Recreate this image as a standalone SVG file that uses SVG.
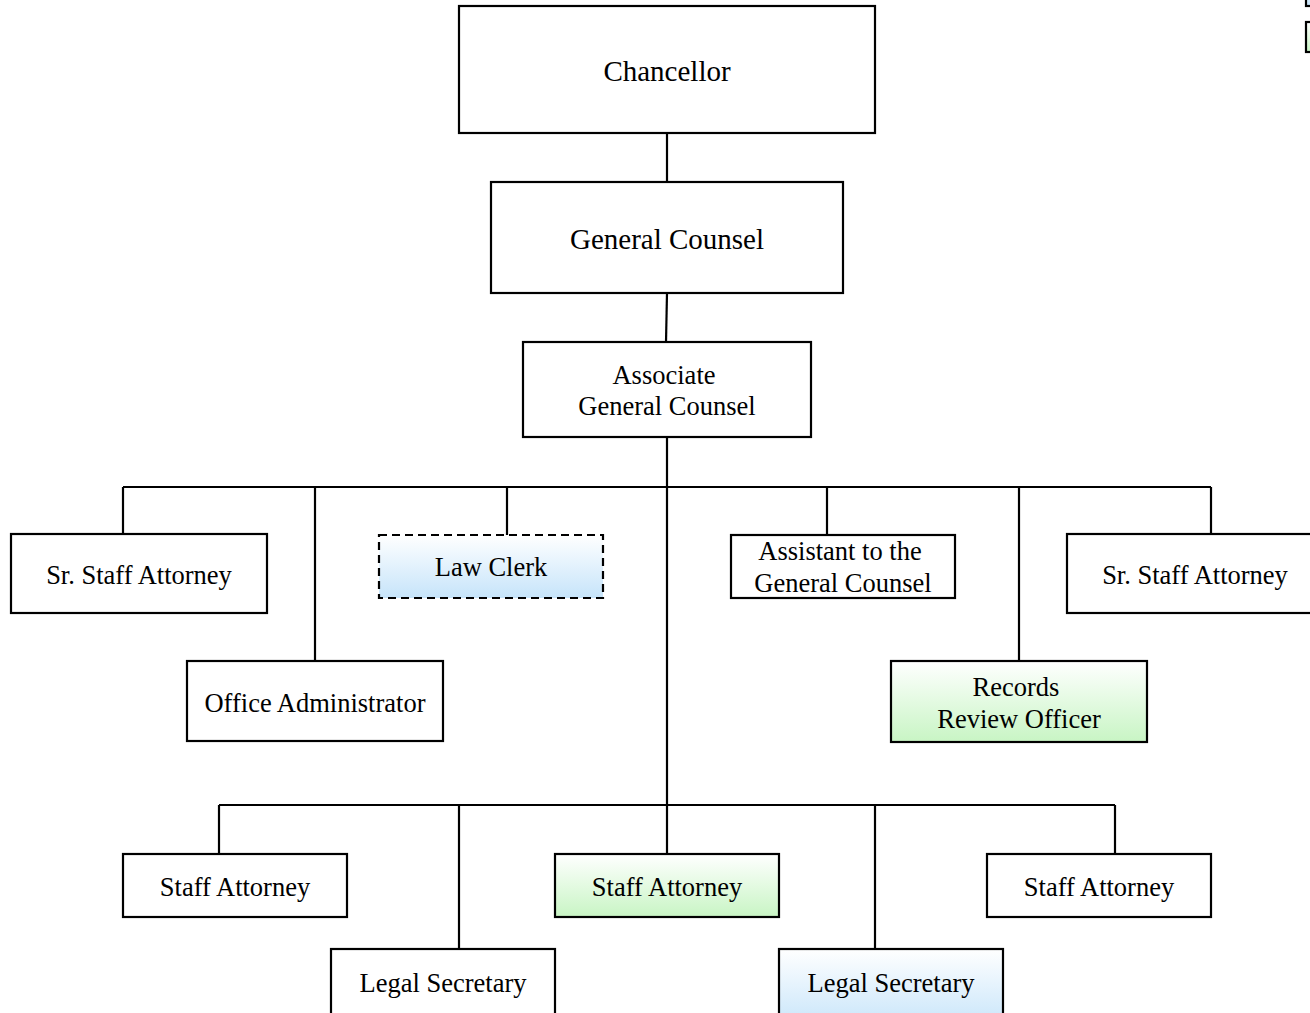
<svg xmlns="http://www.w3.org/2000/svg" width="1310" height="1013" viewBox="0 0 1310 1013">
  <defs>
    <linearGradient id="gBlue" x1="0" y1="0" x2="0" y2="1">
      <stop offset="0" stop-color="#ffffff"/>
      <stop offset="1" stop-color="#c6e4fa"/>
    </linearGradient>
    <linearGradient id="gGreen" x1="0" y1="0" x2="0" y2="1">
      <stop offset="0" stop-color="#ffffff"/>
      <stop offset="1" stop-color="#c8f5c4"/>
    </linearGradient>
    <style>
      .box { fill: #ffffff; stroke: #000000; stroke-width: 2.2; }
      .blue { fill: url(#gBlue); }
      .green { fill: url(#gGreen); }
      .dash { stroke-dasharray: 8 5; }
      .lbl { font-family: "Liberation Serif", "Times New Roman", serif; font-size: 26.5px; fill: #000000; text-anchor: middle; }
      .big { font-size: 29px; }
      .wire { fill: none; stroke: #000000; stroke-width: 2.2; }
    </style>
  </defs>
  <rect width="1310" height="1013" fill="#ffffff"/>

  <!-- connectors -->
  <g id="connectors" class="wire">
    <path d="M667 133 V182"/>
    <path d="M667 293 L666 342"/>
    <path d="M667 437 V805"/>
    <path d="M123 487 H1211"/>
    <path d="M123 487 V534"/>
    <path d="M315 487 V661"/>
    <path d="M507 487 V535"/>
    <path d="M827 487 V535"/>
    <path d="M1019 487 V661"/>
    <path d="M1211 487 V534"/>
    <path d="M219 805 H1115"/>
    <path d="M219 805 V854"/>
    <path d="M459 805 V949"/>
    <path d="M667 805 V854"/>
    <path d="M875 805 V949"/>
    <path d="M1115 805 V854"/>
  </g>

  <!-- key swatches at the right edge -->
  <g id="key">
    <rect class="box blue" x="1306" y="-30" width="40" height="36"/>
    <rect class="box green" x="1306" y="22" width="40" height="30"/>
  </g>

  <g id="chancellor">
    <rect class="box" x="459" y="6" width="416" height="127"/>
    <text class="lbl big" x="667" y="81">Chancellor</text>
  </g>

  <g id="general-counsel">
    <rect class="box" x="491" y="182" width="352" height="111"/>
    <text class="lbl big" x="667" y="249">General Counsel</text>
  </g>

  <g id="associate-general-counsel">
    <rect class="box" x="523" y="342" width="288" height="95"/>
    <text class="lbl" x="664" y="384">Associate</text>
    <text class="lbl" x="667" y="415">General Counsel</text>
  </g>

  <g id="sr-staff-attorney-left">
    <rect class="box" x="11" y="534" width="256" height="79"/>
    <text class="lbl" x="139" y="584">Sr. Staff Attorney</text>
  </g>

  <g id="law-clerk">
    <rect class="box blue dash" x="379" y="535" width="224" height="63"/>
    <text class="lbl" x="491" y="576">Law Clerk</text>
  </g>

  <g id="assistant-to-general-counsel">
    <rect class="box" x="731" y="535" width="224" height="63"/>
    <text class="lbl" x="840" y="560">Assistant to the</text>
    <text class="lbl" x="843" y="592">General Counsel</text>
  </g>

  <g id="sr-staff-attorney-right">
    <rect class="box" x="1067" y="534" width="260" height="79"/>
    <text class="lbl" x="1195" y="584">Sr. Staff Attorney</text>
  </g>

  <g id="office-administrator">
    <rect class="box" x="187" y="661" width="256" height="80"/>
    <text class="lbl" x="315" y="712">Office Administrator</text>
  </g>

  <g id="records-review-officer">
    <rect class="box green" x="891" y="661" width="256" height="81"/>
    <text class="lbl" x="1016" y="696">Records</text>
    <text class="lbl" x="1019" y="728">Review Officer</text>
  </g>

  <g id="staff-attorney-1">
    <rect class="box" x="123" y="854" width="224" height="63"/>
    <text class="lbl" x="235" y="896">Staff Attorney</text>
  </g>

  <g id="staff-attorney-2">
    <rect class="box green" x="555" y="854" width="224" height="63"/>
    <text class="lbl" x="667" y="896">Staff Attorney</text>
  </g>

  <g id="staff-attorney-3">
    <rect class="box" x="987" y="854" width="224" height="63"/>
    <text class="lbl" x="1099" y="896">Staff Attorney</text>
  </g>

  <g id="legal-secretary-1">
    <rect class="box" x="331" y="949" width="224" height="80"/>
    <text class="lbl" x="443" y="992">Legal Secretary</text>
  </g>

  <g id="legal-secretary-2">
    <rect class="box blue" x="779" y="949" width="224" height="80"/>
    <text class="lbl" x="891" y="992">Legal Secretary</text>
  </g>
</svg>
